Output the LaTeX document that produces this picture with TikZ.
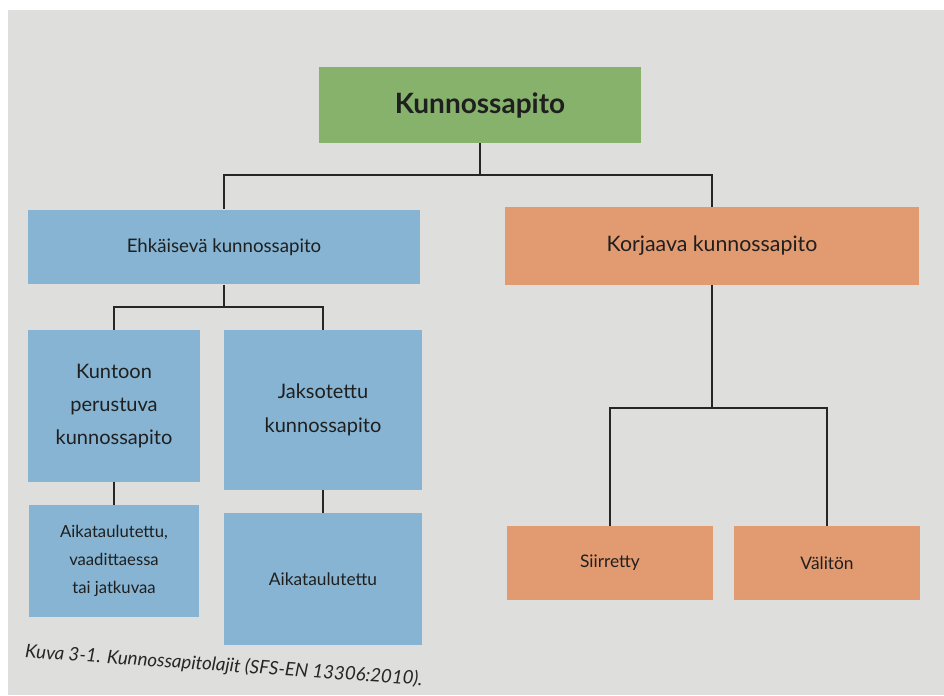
\documentclass[tikz,border=0pt]{standalone}
\usepackage{fontspec}
\setmainfont{Lato}
\usetikzlibrary{positioning}
\definecolor{pagegray}{RGB}{222,222,220}
\definecolor{topgreen}{RGB}{134,178,108}
\definecolor{prevblue}{RGB}{134,180,210}
\definecolor{corrorange}{RGB}{226,154,112}

\begin{document}
\begin{tikzpicture}[
  x=0.75pt, y=-0.75pt,
  box/.style={inner sep=2pt, align=center, text=black!88},
  topbox/.style={box, fill=topgreen, minimum width=241pt, minimum height=57pt,
                 font=\fontsize{21}{25}\selectfont\bfseries},
  bluebox/.style={box, fill=prevblue},
  orabox/.style={box, fill=corrorange},
  link/.style={draw=black!85, line width=0.8pt},
]
% ---- page ----
\useasboundingbox (0,0) rectangle (944,695);
\fill[white] (0,0) rectangle (944,695);
\fill[pagegray] (8,10) rectangle (944,695);

% ======================= boxes =======================
\node[topbox] (top) at (480,105) {Kunnossapito};

% preventive side
\node[bluebox, minimum width=294pt, minimum height=56pt,
      font=\fontsize{14}{17}\selectfont] (ehk) at (224,247) {Ehkäisevä kunnossapito};
\node[bluebox, minimum width=129pt, minimum height=114pt,
      font=\fontsize{15}{25}\selectfont] (kun) at (114,406) {Kuntoon\\perustuva\\kunnossapito};
\node[bluebox, minimum width=148.5pt, minimum height=120pt,
      font=\fontsize{15}{25}\selectfont] (jak) at (323,410) {Jaksotettu\\kunnossapito};
\node[bluebox, minimum width=127.5pt, minimum height=84pt,
      font=\fontsize{12.5}{21}\selectfont] (aik1) at (114,561) {Aikataulutettu,\\vaadittaessa\\tai jatkuvaa};
\node[bluebox, minimum width=148pt, minimum height=99pt,
      font=\fontsize{13}{16}\selectfont] (aik2) at (323,579) {Aikataulutettu};

% corrective side
\node[orabox, minimum width=311pt, minimum height=58pt,
      font=\fontsize{16}{19}\selectfont] (kor) at (712,246) {Korjaava kunnossapito};
\node[orabox, minimum width=154pt, minimum height=55pt,
      font=\fontsize{13}{16}\selectfont] (sii) at (610,563) {Siirretty};
\node[orabox, minimum width=139.5pt, minimum height=55pt,
      font=\fontsize{13}{16}\selectfont] (val) at (827,563) {Välitön};

% ======================= connectors =======================
\coordinate (j1) at (480,175);
\coordinate (j2) at (224,307);
\coordinate (j3) at (712,408);

\draw[link] (top.south) -- (j1) -| (ehk.north);
\draw[link] (j1) -| (kor.north);

\draw[link] (ehk.south) -- (j2) -| (kun.north);
\draw[link] (j2) -| (jak.north);

\draw[link] (kor.south) -- (j3) -| (sii.north);
\draw[link] (j3) -| (val.north);

\draw[link] (kun.south) -- (aik1.north);
\draw[link] (jak.south) -- (aik2.north);

% ======================= caption =======================
\node[anchor=west, rotate=-4, inner sep=0pt, text=black!85,
      font=\fontsize{14}{16}\selectfont\itshape] (cap) at (25,652)
  {Kuva 3-1. Kunnossapitolajit (SFS-EN 13306:2010).};
\end{tikzpicture}
\end{document}
